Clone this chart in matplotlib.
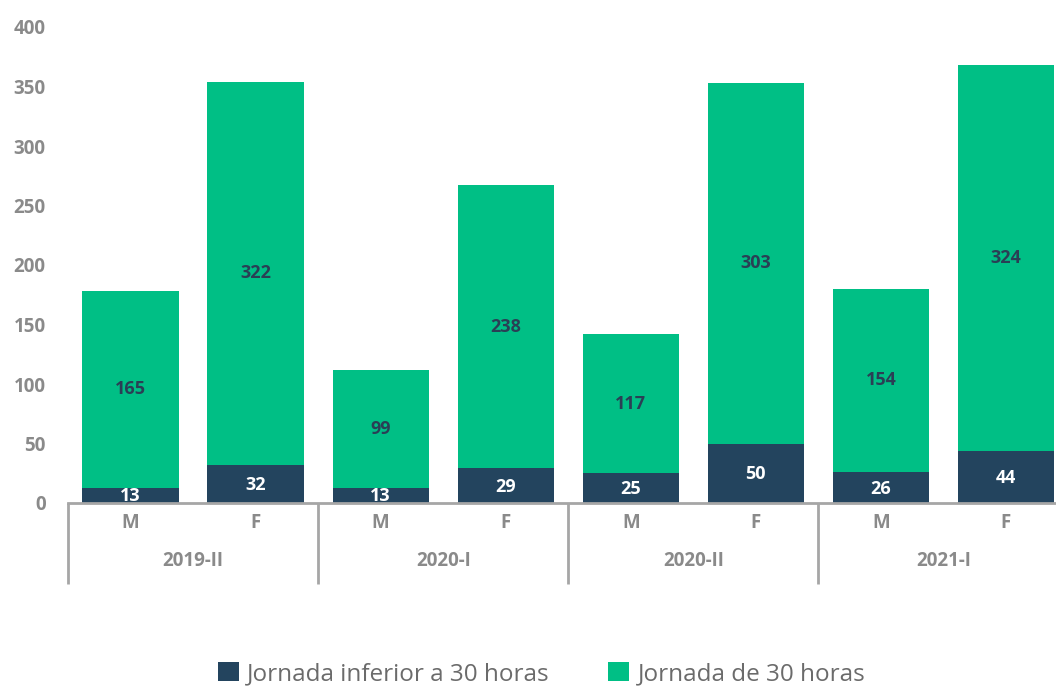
import matplotlib.pyplot as plt
import numpy as np

periods = ['2019-II', '2020-I', '2020-II', '2021-I']
sexes = ['M', 'F']
inferior = [13, 32, 13, 29, 25, 50, 26, 44]
completa = [165, 322, 99, 238, 117, 303, 154, 324]
legend_labels = ['Jornada inferior a 30 horas', 'Jornada de 30 horas']

navy = '#23445e'
green = '#00bf85'
gray = '#8a8a8a'
line_gray = '#a6a6a6'

plt.rcParams['font.family'] = ['Open Sans', 'DejaVu Sans']

fig = plt.figure(figsize=(10.56, 6.86), dpi=100)
ax = fig.add_axes([68 / 1056, 1 - 503 / 686, 1000.5 / 1056, 476 / 686])

x = np.arange(len(inferior))
b1 = ax.bar(x, inferior, width=0.77, color=navy, label=legend_labels[0])
b2 = ax.bar(x, completa, width=0.77, bottom=inferior, color=green, label=legend_labels[1])

for xi, lo, hi in zip(x, inferior, completa):
    ax.text(xi, lo / 2 - 1, str(lo), ha='center', va='center', color='white',
            fontsize=13, fontweight='bold')
    ax.text(xi, lo + hi / 2, str(hi), ha='center', va='center', color='#2a3f55',
            fontsize=13, fontweight='bold')

ax.set_xlim(-0.5, len(x) - 0.5)
ax.set_ylim(0, 400)
ax.set_yticks(range(0, 401, 50))
ax.tick_params(axis='y', length=0, pad=16, labelsize=13.5, labelcolor=gray)
for lab in ax.get_yticklabels():
    lab.set_fontweight('bold')
ax.set_xticks([])
for s in ['top', 'right', 'left']:
    ax.spines[s].set_visible(False)
ax.spines['bottom'].set_color(line_gray)
ax.spines['bottom'].set_linewidth(2)

# two-level category axis
trans = ax.get_xaxis_transform()
for i, xi in enumerate(x):
    ax.text(xi, -0.043, sexes[i % 2], transform=trans, ha='center', va='center',
            fontsize=13.5, fontweight='bold', color=gray)
for g, p in enumerate(periods):
    ax.text(2 * g + 0.5, -0.122, p, transform=trans, ha='center', va='center',
            fontsize=13.5, fontweight='bold', color=gray)
for g in range(len(periods) + 1):
    ax.plot([2 * g - 0.5, 2 * g - 0.5], [0, -0.17], transform=trans, color=line_gray,
            lw=2, clip_on=False, solid_capstyle='butt')

leg = fig.legend(handles=[b1, b2], loc='center', bbox_to_anchor=(0.513, 1 - 674 / 686),
                 ncol=2, frameon=False, fontsize=17.5, handlelength=0.85, handleheight=0.85,
                 handletextpad=0.35, columnspacing=2.4, borderpad=0.2)
for t in leg.get_texts():
    t.set_color('#6b6b6b')

fig.savefig('out.png', dpi=100)
